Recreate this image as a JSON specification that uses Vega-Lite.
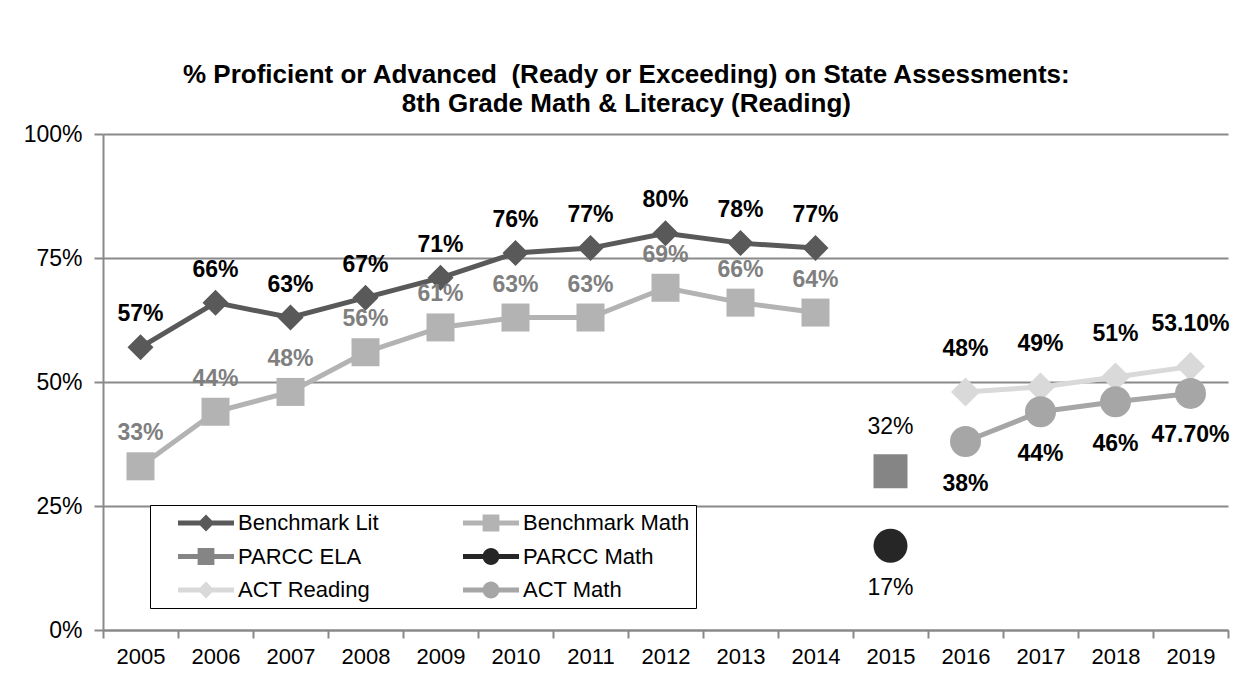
{
  "$schema": "https://vega.github.io/schema/vega-lite/v6.json",
  "width": 1125,
  "height": 496,
  "autosize": {"type": "none"},
  "padding": {"left": 103, "top": 134, "right": 23, "bottom": 60},
  "background": "white",
  "config": {"font": "Liberation Sans", "view": {"stroke": null}},
  "title": {
    "text": ["% Proficient or Advanced\u00a0 (Ready or Exceeding) on State Assessments:", "8th Grade Math & Literacy (Reading)"],
    "anchor": "middle", "frame": "bounds", "offset": 6, "fontSize": 26, "fontWeight": "bold", "lineHeight": 29, "color": "black"
  },
  "data": {"values": [
    {"series": "Benchmark Lit", "year": "2005", "value": 0.57, "label": "57%"},
    {"series": "Benchmark Lit", "year": "2006", "value": 0.66, "label": "66%"},
    {"series": "Benchmark Lit", "year": "2007", "value": 0.63, "label": "63%"},
    {"series": "Benchmark Lit", "year": "2008", "value": 0.67, "label": "67%"},
    {"series": "Benchmark Lit", "year": "2009", "value": 0.71, "label": "71%"},
    {"series": "Benchmark Lit", "year": "2010", "value": 0.76, "label": "76%"},
    {"series": "Benchmark Lit", "year": "2011", "value": 0.77, "label": "77%"},
    {"series": "Benchmark Lit", "year": "2012", "value": 0.80, "label": "80%"},
    {"series": "Benchmark Lit", "year": "2013", "value": 0.78, "label": "78%"},
    {"series": "Benchmark Lit", "year": "2014", "value": 0.77, "label": "77%"},
    {"series": "Benchmark Math", "year": "2005", "value": 0.33, "label": "33%"},
    {"series": "Benchmark Math", "year": "2006", "value": 0.44, "label": "44%"},
    {"series": "Benchmark Math", "year": "2007", "value": 0.48, "label": "48%"},
    {"series": "Benchmark Math", "year": "2008", "value": 0.56, "label": "56%"},
    {"series": "Benchmark Math", "year": "2009", "value": 0.61, "label": "61%"},
    {"series": "Benchmark Math", "year": "2010", "value": 0.63, "label": "63%"},
    {"series": "Benchmark Math", "year": "2011", "value": 0.63, "label": "63%"},
    {"series": "Benchmark Math", "year": "2012", "value": 0.69, "label": "69%"},
    {"series": "Benchmark Math", "year": "2013", "value": 0.66, "label": "66%"},
    {"series": "Benchmark Math", "year": "2014", "value": 0.64, "label": "64%"},
    {"series": "PARCC ELA", "year": "2015", "value": 0.32, "label": "32%"},
    {"series": "PARCC Math", "year": "2015", "value": 0.17, "label": "17%"},
    {"series": "ACT Reading", "year": "2016", "value": 0.48, "label": "48%"},
    {"series": "ACT Reading", "year": "2017", "value": 0.49, "label": "49%"},
    {"series": "ACT Reading", "year": "2018", "value": 0.51, "label": "51%"},
    {"series": "ACT Reading", "year": "2019", "value": 0.531, "label": "53.10%"},
    {"series": "ACT Math", "year": "2016", "value": 0.38, "label": "38%"},
    {"series": "ACT Math", "year": "2017", "value": 0.44, "label": "44%"},
    {"series": "ACT Math", "year": "2018", "value": 0.46, "label": "46%"},
    {"series": "ACT Math", "year": "2019", "value": 0.477, "label": "47.70%"}
  ]},
  "encoding": {
    "x": {
      "field": "year", "type": "ordinal",
      "scale": {"type": "band", "paddingInner": 0, "paddingOuter": 0},
      "axis": {"title": null, "labelAngle": 0, "tickBand": "extent", "grid": false, "domainColor": "#898989", "domainWidth": 2, "tickColor": "#898989", "tickWidth": 2, "tickSize": 8, "labelFontSize": 22, "labelColor": "black", "labelPadding": 8}
    },
    "y": {
      "field": "value", "type": "quantitative",
      "scale": {"domain": [0, 1]},
      "axis": {"title": null, "values": [0, 0.25, 0.5, 0.75, 1], "format": ".0%", "gridColor": "#898989", "gridWidth": 2, "domainColor": "#898989", "domainWidth": 2, "tickColor": "#898989", "tickWidth": 2, "tickSize": 9, "labelFontSize": 23, "labelColor": "black", "labelPadding": 12}
    }
  },
  "layer": [
    {
      "transform": [{"filter": "datum.value < 0"}],
      "mark": {"type": "point", "filled": true, "opacity": 1},
      "encoding": {
        "color": {"field": "series", "type": "nominal",
          "scale": {"domain": ["Benchmark Lit", "PARCC ELA", "ACT Reading", "Benchmark Math", "PARCC Math", "ACT Math"],
                    "range": ["#595959", "#858585", "#d9d9d9", "#b3b3b3", "#262626", "#a6a6a6"]},
          "legend": {"orient": "none", "legendX": 47, "legendY": 371, "columns": 2, "title": null,
            "symbolSize": 3136, "symbolStrokeWidth": 0, "symbolOpacity": 1, "clipHeight": 24,
            "rowPadding": 9.5, "columnPadding": 62, "labelOffset": 4, "symbolOffset": 22, "padding": 6,
            "strokeColor": "black", "fillColor": "white",
            "labelFontSize": 22, "labelColor": "black", "labelLimit": 400}},
        "shape": {"field": "series", "type": "nominal",
          "scale": {"domain": ["Benchmark Lit", "PARCC ELA", "ACT Reading", "Benchmark Math", "PARCC Math", "ACT Math"],
            "range": [
              "M-1,-0.09L1,-0.09L1,0.09L-1,0.09ZM0,-0.3L0.3,0L0,0.3L-0.3,0Z",
              "M-1,-0.09L1,-0.09L1,0.09L-1,0.09ZM-0.3,-0.3L0.3,-0.3L0.3,0.3L-0.3,0.3Z",
              "M-1,-0.09L1,-0.09L1,0.09L-1,0.09ZM0,-0.3L0.3,0L0,0.3L-0.3,0Z",
              "M-1,-0.09L1,-0.09L1,0.09L-1,0.09ZM-0.3,-0.3L0.3,-0.3L0.3,0.3L-0.3,0.3Z",
              "M-1,-0.09L1,-0.09L1,0.09L-1,0.09ZM0.3,0A0.3,0.3,0,1,1,-0.3,0A0.3,0.3,0,1,1,0.3,0Z",
              "M-1,-0.09L1,-0.09L1,0.09L-1,0.09ZM0.3,0A0.3,0.3,0,1,1,-0.3,0A0.3,0.3,0,1,1,0.3,0Z"
            ]}}
      }
    },
    {
      "transform": [{"filter": "datum.series != 'PARCC ELA' && datum.series != 'PARCC Math'"}],
      "mark": {"type": "line", "strokeWidth": 5},
      "encoding": {
        "color": {"field": "series", "type": "nominal", "legend": null},
        "detail": {"field": "series"}
      }
    },
    {
      "transform": [{"filter": "datum.series == 'Benchmark Lit'"}],
      "mark": {"type": "point", "filled": true, "shape": "diamond", "size": 676, "opacity": 1, "strokeWidth": 0},
      "encoding": {"color": {"field": "series", "type": "nominal", "legend": null}}
    },
    {
      "transform": [{"filter": "datum.series == 'Benchmark Math'"}],
      "mark": {"type": "point", "filled": true, "shape": "square", "size": 784, "opacity": 1, "strokeWidth": 0},
      "encoding": {"color": {"field": "series", "type": "nominal", "legend": null}}
    },
    {
      "transform": [{"filter": "datum.series == 'PARCC ELA'"}],
      "mark": {"type": "point", "filled": true, "shape": "square", "size": 1156, "opacity": 1, "strokeWidth": 0},
      "encoding": {"color": {"field": "series", "type": "nominal", "legend": null}}
    },
    {
      "transform": [{"filter": "datum.series == 'PARCC Math'"}],
      "mark": {"type": "point", "filled": true, "shape": "circle", "size": 1156, "opacity": 1, "strokeWidth": 0},
      "encoding": {"color": {"field": "series", "type": "nominal", "legend": null}}
    },
    {
      "transform": [{"filter": "datum.series == 'ACT Reading'"}],
      "mark": {"type": "point", "filled": true, "shape": "diamond", "size": 841, "opacity": 1, "strokeWidth": 0},
      "encoding": {"color": {"field": "series", "type": "nominal", "legend": null}}
    },
    {
      "transform": [{"filter": "datum.series == 'ACT Math'"}],
      "mark": {"type": "point", "filled": true, "shape": "circle", "size": 961, "opacity": 1, "strokeWidth": 0},
      "encoding": {"color": {"field": "series", "type": "nominal", "legend": null}}
    },
    {
      "transform": [{"filter": "datum.series == 'Benchmark Lit'"}],
      "mark": {"type": "text", "dy": -33, "fontSize": 23, "fontWeight": "bold", "color": "black"},
      "encoding": {"text": {"field": "label"}}
    },
    {
      "transform": [{"filter": "datum.series == 'Benchmark Math'"}],
      "mark": {"type": "text", "dy": -33, "fontSize": 23, "fontWeight": "bold", "color": "#7f7f7f"},
      "encoding": {"text": {"field": "label"}}
    },
    {
      "transform": [{"filter": "datum.series == 'PARCC ELA'"}],
      "mark": {"type": "text", "dy": -44, "fontSize": 23, "color": "black"},
      "encoding": {"text": {"field": "label"}}
    },
    {
      "transform": [{"filter": "datum.series == 'PARCC Math'"}],
      "mark": {"type": "text", "dy": 42, "fontSize": 23, "color": "black"},
      "encoding": {"text": {"field": "label"}}
    },
    {
      "transform": [{"filter": "datum.series == 'ACT Reading'"}],
      "mark": {"type": "text", "dy": -43, "fontSize": 23, "fontWeight": "bold", "color": "black"},
      "encoding": {"text": {"field": "label"}}
    },
    {
      "transform": [{"filter": "datum.series == 'ACT Math'"}],
      "mark": {"type": "text", "dy": 42, "fontSize": 23, "fontWeight": "bold", "color": "black"},
      "encoding": {"text": {"field": "label"}}
    }
  ]
}
